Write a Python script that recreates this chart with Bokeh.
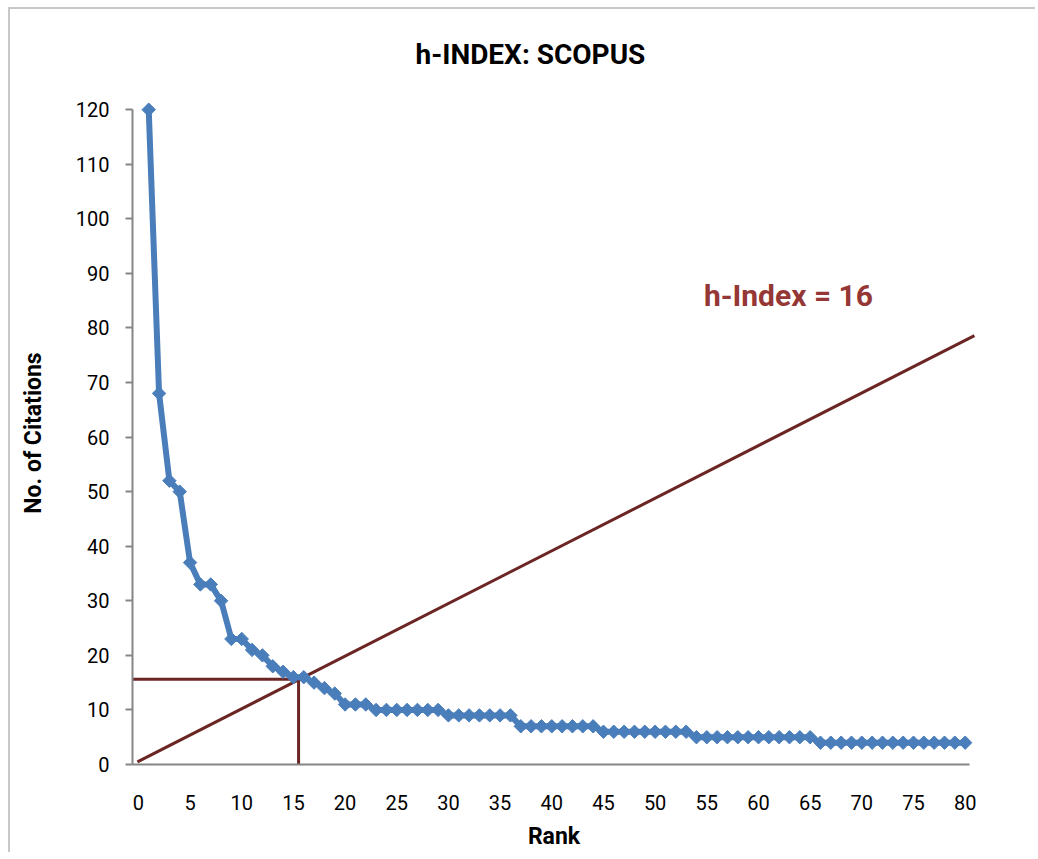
from bokeh.plotting import figure
from bokeh.models import FixedTicker, Label, Range1d
from bokeh.embed import file_html
from bokeh.resources import INLINE

# ---- data ----
rank = list(range(1, 81))
citations = [120, 68, 52, 50, 37, 33, 33, 30, 23, 23,
             21, 20, 18, 17, 16, 16, 15, 14, 13, 11,
             11, 11, 10, 10, 10, 10, 10, 10, 10, 9,
             9, 9, 9, 9, 9, 9, 7, 7, 7, 7,
             7, 7, 7, 7, 6, 6, 6, 6, 6, 6,
             6, 6, 6, 5, 5, 5, 5, 5, 5, 5,
             5, 5, 5, 5, 5, 4, 4, 4, 4, 4,
             4, 4, 4, 4, 4, 4, 4, 4, 4, 4]
h_index = 15.5
diag_x = [-0.09, 80.9]
diag_y = [0.48, 78.6]
title_text = "h-INDEX: SCOPUS"
label_text = "h-Index = 16"
label_x, label_y = 62.9, 85.9
y_ticks = [0, 10, 20, 30, 40, 50, 60, 70, 80, 90, 100, 110, 120]
x_ticks = [0, 5, 10, 15, 20, 25, 30, 35, 40, 45, 50, 55, 60, 65, 70, 75, 80]
x_min, x_max, x_axis_end = -0.57, 81.0, 80.4
y_min, y_max, y_axis_end = 0, 121.5, 120

FONT = "Roboto"
BLUE = "#4a7ebb"
DARK_RED = "#6b2624"
TEXT_RED = "#953735"
GRAY = "#868686"

p = figure(frame_width=843, frame_height=663,
           min_border_left=122, min_border_top=92, min_border_right=60, min_border_bottom=86,
           x_range=Range1d(x_min, x_max), y_range=Range1d(y_min, y_max),
           output_backend="svg", toolbar_location=None, title=title_text)
p.styles = {"margin-left": "8px", "margin-top": "7px",
            "border-top": "2px solid #c8c8c8", "border-left": "2px solid #c8c8c8"}

p.outline_line_color = None
p.xgrid.grid_line_color = None
p.ygrid.grid_line_color = None

p.title.text_font = FONT
p.title.text_font_size = "28px"
p.title.text_font_style = "bold"
p.title.text_color = "black"
p.title.align = "left"
p.title.offset = 283
p.title.vertical_align = "top"
p.title.standoff = 57

# axes
p.xaxis.ticker = FixedTicker(ticks=x_ticks)
p.yaxis.ticker = FixedTicker(ticks=y_ticks)
p.xaxis.bounds = (x_min, x_axis_end)
p.yaxis.bounds = (y_min, y_axis_end)
for ax in (p.xaxis[0], p.yaxis[0]):
    ax.axis_line_color = GRAY
    ax.axis_line_width = 2
    ax.major_tick_line_color = GRAY
    ax.major_tick_line_width = 2
    ax.minor_tick_line_color = None
    ax.major_label_text_font = FONT
    ax.major_label_text_font_size = "20px"
    ax.major_label_text_color = "black"
    ax.axis_label_text_font = FONT
    ax.axis_label_text_font_size = "23px"
    ax.axis_label_text_font_style = "bold"
    ax.axis_label_text_color = "black"

p.xaxis.major_tick_out = 0
p.xaxis.major_tick_in = 0
p.xaxis.major_label_standoff = 30
p.xaxis.axis_label = "Rank"
p.xaxis.axis_label_standoff = 10

p.yaxis.major_tick_out = 7
p.yaxis.major_tick_in = 0
p.yaxis.major_label_standoff = 16
p.yaxis.axis_label = "No. of Citations"
p.yaxis.axis_label_standoff = 26

# h-index guide lines
p.line(diag_x, diag_y, line_color=DARK_RED, line_width=3)
p.line([x_min, h_index], [h_index + 0.1, h_index + 0.1], line_color=DARK_RED, line_width=3)
p.line([h_index, h_index], [y_min - 1, h_index + 0.1], line_color=DARK_RED, line_width=3)

# data series
p.line(rank, citations, line_color=BLUE, line_width=6)
p.scatter(rank, citations, marker="square", angle=0.785398, size=9.5,
          fill_color=BLUE, line_color=BLUE, line_width=1)

p.add_layout(Label(x=label_x, y=label_y, text=label_text, text_font=FONT,
                   text_font_size="30px", text_font_style="bold", text_color=TEXT_RED,
                   text_align="center", text_baseline="middle"))

open("out.html", "w").write(file_html(p, INLINE))
